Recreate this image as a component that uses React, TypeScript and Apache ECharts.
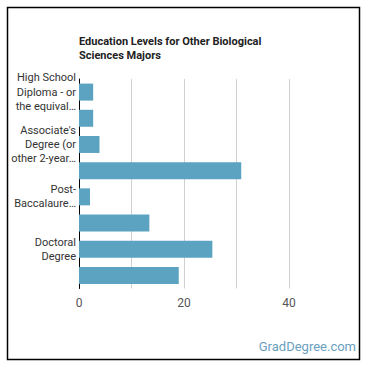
import React, { useEffect, useRef } from "react";
import * as echarts from "echarts";

const categories = [
  "High School Diploma - or the equivalent (for example: GED)",
  "Post-Secondary Certificate",
  "Associate's Degree (or other 2-year degree)",
  "Bachelor's Degree",
  "Post-Baccalaureate Certificate",
  "Master's Degree",
  "Doctoral Degree",
  "Post-Doctoral Training",
];
const tickLabels = [
  "High School\nDiploma - or\nthe equival…",
  "",
  "Associate's\nDegree (or\nother 2-year…",
  "",
  "Post-\nBaccalaure…",
  "",
  "Doctoral\nDegree",
  "",
];
const values = [2.7, 2.7, 3.9, 30.9, 2.1, 13.4, 25.4, 19.0];
const xTicks = [0, 20, 40];

const TITLE = "Education Levels for Other Biological\nSciences Majors";
const WATERMARK = "GradDegree.com";

export default function App() {
  const ref = useRef<HTMLDivElement>(null);
  useEffect(() => {
    if (!ref.current) return;
    const chart = echarts.init(ref.current, null, { renderer: "svg" });
    chart.setOption({
      animation: false,
      textStyle: { fontFamily: "Roboto" },
      grid: { left: 79, right: 28.5, top: 79, bottom: 81.5, containLabel: false },
      xAxis: {
        type: "value",
        min: 0,
        max: 50,
        interval: 10,
        axisLine: { show: false },
        axisTick: { show: false },
        splitLine: { show: true, showMinLine: false, showMaxLine: false, lineStyle: { color: "#d0d0d0", width: 1 } },
        axisLabel: {
          color: "#555",
          fontSize: 12,
          margin: 8,
          formatter: (v: number) => (xTicks.includes(v) ? String(v) : ""),
        },
      },
      yAxis: {
        type: "category",
        inverse: true,
        data: categories,
        axisLine: { show: true, lineStyle: { color: "#000", width: 1 } },
        axisTick: { show: false },
        axisLabel: {
          interval: 0,
          color: "#333",
          fontSize: 11,
          lineHeight: 14.3,
          margin: 3,
          align: "right",
          formatter: (_v: string, i: number) => tickLabels[i],
        },
      },
      series: [
        {
          type: "bar",
          data: values,
          barWidth: 17,
          itemStyle: { color: "#5ba3c1" },
        },
      ],
      graphic: [
        {
          type: "rect",
          shape: { x: 7.5, y: 7.5, width: 352, height: 352 },
          style: { fill: "none", stroke: "#000", lineWidth: 1.5 },
          silent: true,
        },
        {
          type: "text",
          left: 79,
          top: 35,
          style: {
            text: TITLE,
            font: "bold 11px Roboto",
            fill: "#222",
            lineHeight: 13.5,
          },
        },
        {
          type: "text",
          right: 14,
          top: 340,
          style: {
            text: WATERMARK,
            font: "13px Roboto",
            fill: "#6a9fbf",
          },
        },
      ],
    });
    return () => chart.dispose();
  }, []);
  return (
    <div
      ref={ref}
      style={{ position: "fixed", left: 0, top: 0, width: 370, height: 370, background: "#fff" }}
    />
  );
}
